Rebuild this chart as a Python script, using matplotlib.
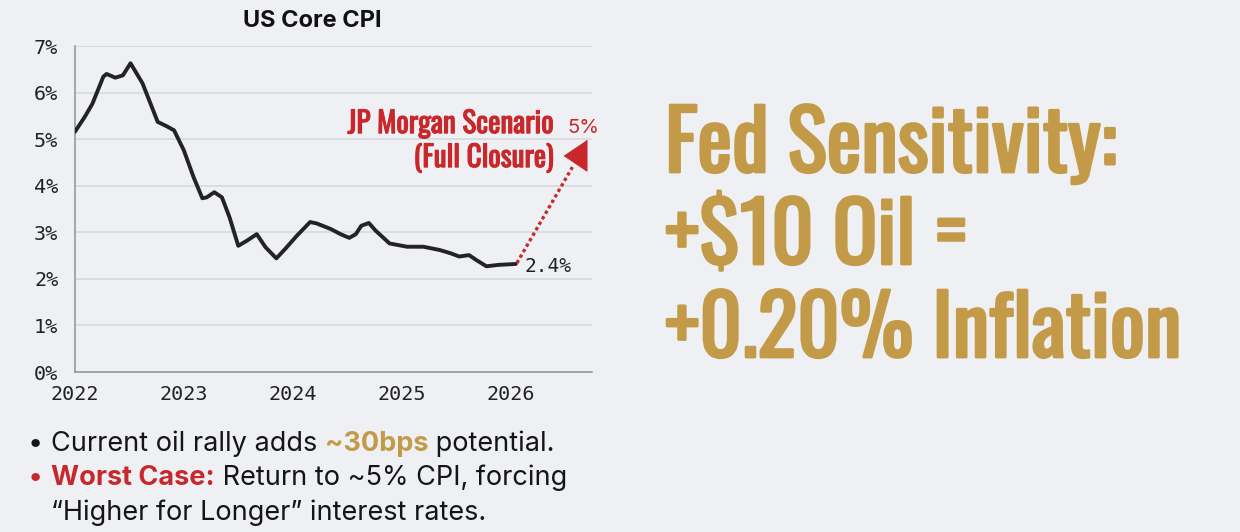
import matplotlib
matplotlib.use("Agg")
import matplotlib.pyplot as plt
from matplotlib import font_manager as fm
import matplotlib.patheffects as pe

# ---------------- data ----------------
years = [2022.00, 2022.09, 2022.16, 2022.26, 2022.29, 2022.37, 2022.44, 2022.51,
         2022.62, 2022.76, 2022.84, 2022.91, 2023.00, 2023.09, 2023.17, 2023.21,
         2023.28, 2023.35, 2023.42, 2023.50, 2023.58, 2023.67, 2023.75, 2023.85,
         2023.93, 2024.04, 2024.16, 2024.22, 2024.35, 2024.44, 2024.52, 2024.58,
         2024.63, 2024.70, 2024.76, 2024.89, 2025.05, 2025.20, 2025.35, 2025.45,
         2025.53, 2025.62, 2025.69, 2025.78, 2025.89, 2026.05]
core_cpi = [5.16, 5.48, 5.76, 6.34, 6.40, 6.32, 6.37, 6.63,
            6.20, 5.37, 5.28, 5.19, 4.76, 4.18, 3.73, 3.75,
            3.86, 3.75, 3.32, 2.71, 2.82, 2.96, 2.68, 2.44,
            2.64, 2.93, 3.22, 3.19, 3.07, 2.96, 2.88, 2.96,
            3.14, 3.20, 3.04, 2.76, 2.69, 2.69, 2.62, 2.55,
            2.48, 2.51, 2.40, 2.27, 2.30, 2.32]
scenario_x = [2026.06, 2026.57]
scenario_y = [2.34, 4.40]
arrow_x = [2026.59]
arrow_y = [4.66]
last_value_label = "2.4%"
scenario_target_label = "5%"
ytick_vals = [0, 1, 2, 3, 4, 5, 6, 7]
ytick_labels = ["0%", "1%", "2%", "3%", "4%", "5%", "6%", "7%"]
xtick_vals = [2022, 2023, 2024, 2025, 2026]
xtick_labels = ["2022", "2023", "2024", "2025", "2026"]

# ---------------- fonts ----------------
entries = fm.fontManager.ttflist
avail = {f.name for f in entries}
def pick(*names):
    for n in names:
        if n in avail:
            return n
    return "DejaVu Sans"

def has_bold(name):
    for f in entries:
        if f.name == name:
            w = f.weight
            if isinstance(w, str):
                if w in ("bold", "heavy", "extra bold", "black", "demibold", "semibold"):
                    return True
            elif w >= 600:
                return True
    return False

COND = pick("Oswald", "Roboto Condensed", "Liberation Sans Narrow")
COND_FAKE_BOLD = not has_bold(COND)

SANS = pick("Inter", "Roboto", "Open Sans", "DejaVu Sans")
MONO = pick("DejaVu Sans Mono", "Liberation Mono")

BG = "#EEF0F4"
GOLD = "#C39A47"
RED = "#C8282B"
INK = "#151515"

def bold_fx(color, lw):
    if COND_FAKE_BOLD:
        return [pe.withStroke(linewidth=lw, foreground=color)]
    return []

W, H = 1240, 532
fig = plt.figure(figsize=(W / 100, H / 100), dpi=100, facecolor=BG)

def fx(px):
    return px / W
def fy(py):
    return 1 - py / H

ax = fig.add_axes([fx(75), fy(372), fx(592) - fx(75), fy(46) - fy(372)])
ax.set_facecolor(BG)
ax.set_xlim(2022, 2026.75)
ax.set_ylim(0, 7)
ax.set_yticks(ytick_vals)
ax.set_yticklabels(ytick_labels)
ax.set_xticks(xtick_vals)
ax.set_xticklabels(xtick_labels)
ax.tick_params(axis="both", length=0, labelsize=14.5, colors="#222222")
ax.tick_params(axis="y", pad=12)
ax.tick_params(axis="x", pad=9)
for lbl in ax.get_xticklabels() + ax.get_yticklabels():
    lbl.set_fontfamily(MONO)
ax.grid(axis="y", color="#D3D6DB", linewidth=1.1)
ax.set_axisbelow(True)
for s in ["top", "right"]:
    ax.spines[s].set_visible(False)
for s in ["left", "bottom"]:
    ax.spines[s].set_color("#8E9399")
    ax.spines[s].set_linewidth(1.1)

ax.plot(years, core_cpi, color="#232323", linewidth=2.8, solid_joinstyle="round",
        solid_capstyle="round", zorder=3)
ax.plot(scenario_x, scenario_y, color=RED, linewidth=2.4, linestyle=(0, (1, 0.9)),
        zorder=3)
tri = [(-11.5, 0), (11.5, -15.5), (11.5, 15.5)]
ax.plot(arrow_x, arrow_y, marker=tri, markersize=22, color=RED, linestyle="none",
        zorder=4, clip_on=False)

ax.text(2026.13, 2.15, last_value_label, family=MONO, fontsize=14, color="#222222",
        ha="left", va="baseline", zorder=5)
ax.text(2026.40, 5.13, "JP Morgan Scenario", family=COND, fontweight="bold",
        fontsize=21, color=RED, ha="right", va="baseline", clip_on=False,
        path_effects=bold_fx(RED, 0.8))
ax.text(2026.40, 4.40, "(Full Closure)", family=COND, fontweight="bold",
        fontsize=21, color=RED, ha="right", va="baseline", clip_on=False,
        path_effects=bold_fx(RED, 0.8))
ax.text(2026.52, 5.13, scenario_target_label, family=SANS, fontsize=14.5, color=RED,
        ha="left", va="baseline", clip_on=False)

fig.text(fx(312), fy(27), "US Core CPI", family=SANS, fontweight="bold", fontsize=17,
         color="#111111", ha="center", va="baseline")

# ---------------- right headline ----------------
for txt, base in [("Fed Sensitivity:", 172), ("+$10 Oil =", 264),
                  ("+0.20% Inflation", 357)]:
    fig.text(fx(665), fy(base), txt, family=COND, fontweight="bold", fontsize=59.5,
             color=GOLD, ha="left", va="baseline", path_effects=bold_fx(GOLD, 2.0))

# ---------------- bullets ----------------
renderer = fig.canvas.get_renderer()
BSIZE = 19.5
def rich(x_px, base_px, parts, size=BSIZE):
    x = fx(x_px)
    for s, color, weight in parts:
        t = fig.text(x, fy(base_px), s, family=SANS, fontsize=size, color=color,
                     fontweight=weight, ha="left", va="baseline")
        bb = t.get_window_extent(renderer=renderer)
        x += bb.width / W

fig.text(fx(28), fy(451), "\u2022", family=SANS, fontsize=BSIZE, color=INK,
         ha="left", va="baseline")
fig.text(fx(28), fy(485), "\u2022", family=SANS, fontsize=BSIZE, color=RED,
         ha="left", va="baseline")
rich(51, 451, [("Current oil rally adds ", INK, "normal"),
               ("~30bps", GOLD, "bold"),
               (" potential.", INK, "normal")])
rich(51, 485, [("Worst Case:", RED, "bold"),
               (" Return to ~5% CPI, forcing", INK, "normal")])
rich(51, 520, [("\u201cHigher for Longer\u201d interest rates.", INK, "normal")])

fig.savefig("out.png", dpi=100, facecolor=BG)
